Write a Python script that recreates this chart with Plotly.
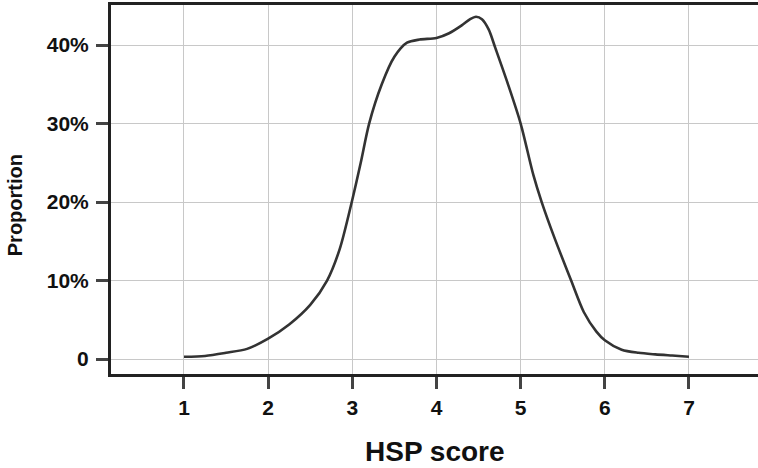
import plotly.graph_objects as go

hsp_score = [1.0, 1.25, 1.5, 1.75, 2.0, 2.25, 2.5, 2.7, 2.85, 3.0, 3.1, 3.2, 3.35, 3.5, 3.65,
             3.8, 4.0, 4.15, 4.3, 4.4, 4.47, 4.54, 4.62, 4.7, 4.85, 5.0, 5.15, 5.25, 5.4, 5.6, 5.75,
             5.9, 6.0, 6.2, 6.4, 6.6, 6.8, 7.0]
proportion = [0.3, 0.4, 0.8, 1.3, 2.6, 4.4, 6.9, 10.0, 14.0, 20.3, 25.0, 30.0, 35.0, 38.5, 40.3,
              40.7, 40.9, 41.5, 42.5, 43.3, 43.6, 43.3, 42.0, 39.6, 35.0, 30.0, 23.5, 20.0, 15.5,
              10.0, 6.0, 3.5, 2.4, 1.2, 0.8, 0.6, 0.45, 0.3]

x_ticks = [1, 2, 3, 4, 5, 6, 7]
y_ticks = [0, 10, 20, 30, 40]
y_ticklabels = ["0", "10%", "20%", "30%", "40%"]

fig = go.Figure()
fig.add_trace(go.Scatter(
    x=hsp_score, y=proportion, mode="lines",
    line=dict(color="#333333", width=2.6, shape="spline", smoothing=0.8),
    showlegend=False, hoverinfo="skip"))

font_family = "Liberation Sans, Arial, sans-serif"
fig.update_layout(
    width=758, height=468,
    margin=dict(l=111, r=0, t=5, b=94),
    paper_bgcolor="white", plot_bgcolor="white",
    font=dict(family=font_family, color="#111111"),
    xaxis=dict(
        range=[0.133, 7.82], tickvals=x_ticks, ticktext=["<b>%d</b>" % t for t in x_ticks],
        showgrid=True, gridcolor="#c8c8c8", gridwidth=1,
        showline=True, linecolor="#222222", linewidth=3, mirror=True,
        ticks="outside", ticklen=12, tickwidth=3, tickcolor="#444444",
        tickfont=dict(size=21, family=font_family, color="#111111"),
        ticklabelstandoff=1,
        zeroline=False, automargin=False,
    ),
    yaxis=dict(
        range=[-1.9, 45.1], tickvals=y_ticks, ticktext=["<b>%s</b>" % t for t in y_ticklabels],
        showgrid=True, gridcolor="#c8c8c8", gridwidth=1,
        showline=True, linecolor="#222222", linewidth=3,
        ticks="outside", ticklen=12, tickwidth=3, tickcolor="#444444",
        tickfont=dict(size=21, family=font_family, color="#111111"),
        ticklabelstandoff=3,
        zeroline=False, automargin=False,
    ),
    annotations=[
        dict(text="<b>HSP score</b>", xref="paper", yref="paper", x=0.5008, y=-0.211,
             xanchor="center", yanchor="middle", showarrow=False,
             font=dict(size=28, family=font_family, color="#111111")),
        dict(text="<b>Proportion</b>", xref="paper", yref="paper", x=-0.148, y=0.458,
             xanchor="center", yanchor="middle", showarrow=False, textangle=-90,
             font=dict(size=20, family=font_family, color="#111111")),
    ],
)

fig.write_html("out.html", config={"displayModeBar": False},
               post_script="document.body.style.margin='0';")
